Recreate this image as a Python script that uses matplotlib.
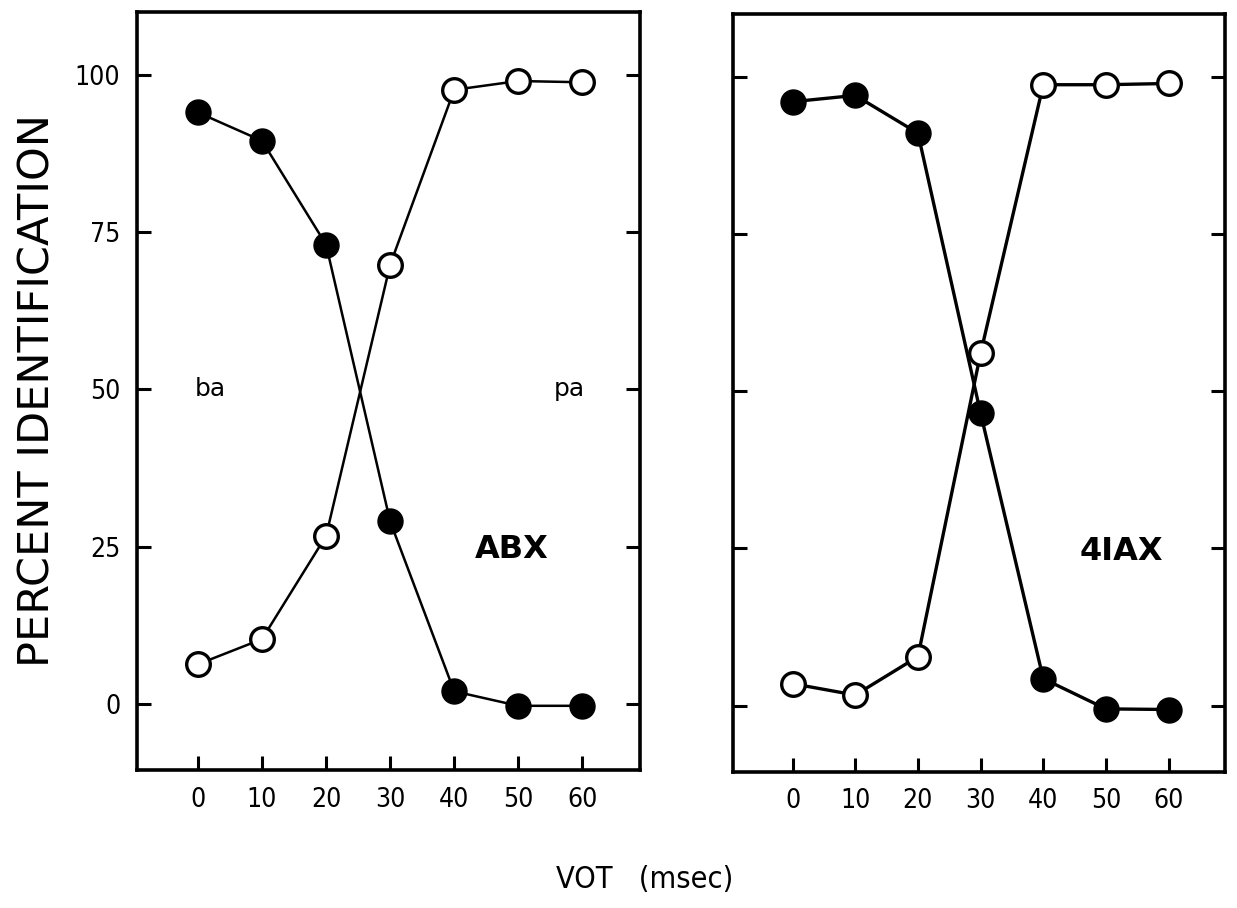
import numpy as np
import matplotlib.pyplot as plt

# VOT continuum (msec)
vot = [0, 10, 20, 30, 40, 50, 60]

# ABX panel
abx_ba = [94, 89.5, 73, 29, 2, -0.3, -0.3]
abx_pa = [6.3, 10.3, 26.7, 69.8, 97.6, 99, 98.8]

# 4IAX panel
iax_ba = [96, 97, 91, 46.5, 4.3, -0.5, -0.6]
iax_pa = [3.5, 1.7, 7.8, 56, 98.7, 98.7, 98.9]

yticks = [0, 25, 50, 75, 100]

plt.rcParams['font.family'] = ['DejaVu Sans']

fig = plt.figure(figsize=(12.37, 9.08), dpi=100)
ax1 = fig.add_axes([0.1108, 0.152, 0.4066, 0.835])
ax2 = fig.add_axes([0.5926, 0.150, 0.3977, 0.835])


def draw_panel(ax, ba, pa, label, label_x, lw):
    ax.plot(vot, ba, color='black', lw=lw, marker='o', ms=18,
            mfc='black', mec='black', zorder=3)
    ax.plot(vot, pa, color='black', lw=lw, marker='o', ms=17,
            mfc='white', mec='black', mew=2.4, zorder=4)
    ax.set_xlim(-9.5, 69)
    ax.set_ylim(-10.5, 110)
    ax.set_xticks(vot)
    ax.set_yticks(yticks)
    ax.tick_params(direction='in', length=10, width=2.2, pad=12,
                   labelsize=19, right=True)
    for t in ax.get_xticklabels() + ax.get_yticklabels():
        t.set_fontstretch('condensed')
    for s in ax.spines.values():
        s.set_linewidth(2.6)
    ax.text(label_x, 24.5, label, fontsize=23, fontweight='bold',
            ha='center', va='center')


draw_panel(ax1, abx_ba, abx_pa, 'ABX', 49, 1.8)
draw_panel(ax2, iax_ba, iax_pa, '4IAX', 52.5, 2.4)
ax2.set_yticklabels([])

ax1.text(2, 50, 'ba', fontsize=18, ha='center', va='center')
ax1.text(58, 50, 'pa', fontsize=18, ha='center', va='center')

ax1.set_ylabel('PERCENT IDENTIFICATION', fontsize=31, labelpad=12)
fig.text(0.521, 0.031, 'VOT   (msec)', fontsize=22, ha='center', va='center',
         fontstretch='condensed')

fig.savefig('out.png', dpi=100)
